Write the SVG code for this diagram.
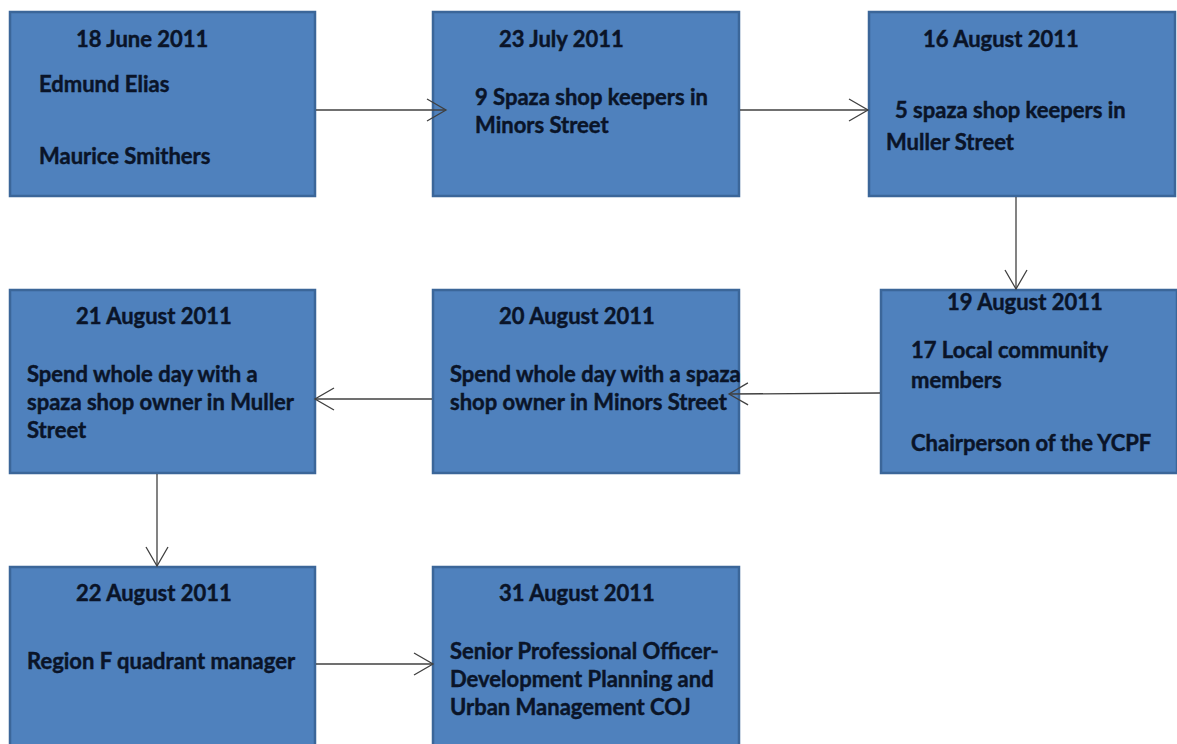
<svg xmlns="http://www.w3.org/2000/svg" width="1177" height="744" viewBox="0 0 1177 744">
<style>
.box{fill:#4f81bd;stroke:#3b6699;stroke-width:2.5}
.t{font-family:Lato,"Liberation Sans",sans-serif;font-weight:bold;font-size:22px;fill:#0a1428;stroke:#0a1428;stroke-width:0.45}
.c{fill:none;stroke:#404040;stroke-width:1.3}
</style>
<defs>
<marker id="ah" markerWidth="24" markerHeight="26" refX="20" refY="12" orient="auto" markerUnits="userSpaceOnUse">
<path d="M1,1 L20,12 L1,23" fill="none" stroke="#404040" stroke-width="1.3"/>
</marker>
</defs>
<rect width="1177" height="744" fill="#ffffff"/>
<g id="n1">
<rect class="box" x="10" y="12" width="305" height="184"/>
<text class="t" x="76" y="47">18 June 2011</text>
<text class="t" x="39" y="92">Edmund Elias</text>
<text class="t" x="39" y="164">Maurice Smithers</text>
</g>
<g id="n2">
<rect class="box" x="433" y="12" width="306" height="184"/>
<text class="t" x="499" y="47">23 July 2011</text>
<text class="t" x="475" y="105">9 Spaza shop keepers in</text>
<text class="t" x="475" y="133">Minors Street</text>
</g>
<g id="n3">
<rect class="box" x="869" y="12" width="306" height="184"/>
<text class="t" x="923" y="47">16 August 2011</text>
<text class="t" x="895" y="118">5 spaza shop keepers in</text>
<text class="t" x="886" y="150">Muller Street</text>
</g>
<g id="n4">
<rect class="box" x="881" y="290" width="296" height="183"/>
<text class="t" x="947" y="310">19 August 2011</text>
<text class="t" x="911" y="358">17 Local community</text>
<text class="t" x="911" y="388">members</text>
<text class="t" x="911" y="451">Chairperson of the YCPF</text>
</g>
<g id="n5">
<rect class="box" x="433" y="290" width="306" height="183"/>
<text class="t" x="499" y="324">20 August 2011</text>
<text class="t" x="450" y="382">Spend whole day with a spaza</text>
<text class="t" x="450" y="410">shop owner in Minors Street</text>
</g>
<g id="n6">
<rect class="box" x="10" y="290" width="305" height="183"/>
<text class="t" x="76" y="324">21 August 2011</text>
<text class="t" x="27" y="382">Spend whole day with a</text>
<text class="t" x="27" y="410">spaza shop owner in Muller</text>
<text class="t" x="27" y="438">Street</text>
</g>
<g id="n7">
<rect class="box" x="10" y="567" width="305" height="190"/>
<text class="t" x="76" y="601">22 August 2011</text>
<text class="t" x="27" y="669">Region F quadrant manager</text>
</g>
<g id="n8">
<rect class="box" x="433" y="567" width="306" height="190"/>
<text class="t" x="499" y="601">31 August 2011</text>
<text class="t" x="450" y="659">Senior Professional Officer-</text>
<text class="t" x="450" y="687">Development Planning and</text>
<text class="t" x="450" y="715">Urban Management COJ</text>
</g>
<g id="connectors">
<line class="c" x1="316" y1="110" x2="446" y2="110" marker-end="url(#ah)"/>
<line class="c" x1="740" y1="110" x2="868" y2="110" marker-end="url(#ah)"/>
<line class="c" x1="1016" y1="197" x2="1016" y2="289" marker-end="url(#ah)"/>
<line class="c" x1="880" y1="393" x2="729" y2="394" marker-end="url(#ah)"/>
<line class="c" x1="432" y1="399" x2="315" y2="399" marker-end="url(#ah)"/>
<line class="c" x1="157" y1="474" x2="157" y2="566" marker-end="url(#ah)"/>
<line class="c" x1="316" y1="664" x2="433" y2="664" marker-end="url(#ah)"/>
</g>
</svg>
